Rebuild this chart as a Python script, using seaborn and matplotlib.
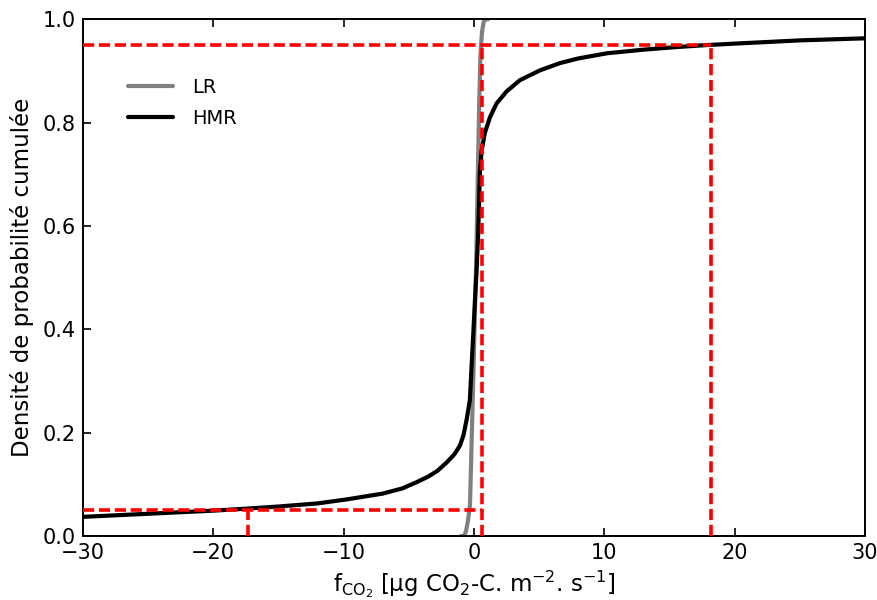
import numpy as np
import pandas as pd
import seaborn as sns
import matplotlib
matplotlib.use("Agg")
import matplotlib.pyplot as plt

# HMR cumulative curve
hmr_x = [-30, -25, -20, -17.4, -15, -12, -9.7, -7, -5.5, -4.4, -3.5, -2.8, -2.1, -1.5,
         -1.07, -0.8, -0.56, -0.31, -0.18, -0.05, 0.08, 0.2, 0.33, 0.4, 0.46, 0.59,
         0.84, 1.23, 1.74, 2.5, 3.53, 5.07, 6.6, 8.0, 10.2, 13.0, 15.5, 17.9, 21.0,
         25.0, 30.0]
hmr_y = [0.037, 0.043, 0.049, 0.053, 0.057, 0.063, 0.071, 0.082, 0.092, 0.104, 0.115,
         0.126, 0.142, 0.158, 0.175, 0.195, 0.225, 0.263, 0.327, 0.39, 0.456, 0.51,
         0.586, 0.65, 0.705, 0.745, 0.78, 0.81, 0.837, 0.86, 0.882, 0.901, 0.915,
         0.924, 0.934, 0.941, 0.946, 0.95, 0.954, 0.959, 0.963]

# LR cumulative curve
lr_x = [-1.0, -0.75, -0.6, -0.45, -0.3, 0.0, 0.2, 0.4, 0.5, 0.62, 0.75, 0.9, 1.1]
lr_y = [0.0, 0.0, 0.01, 0.03, 0.06, 0.35, 0.56, 0.83, 0.93, 0.975, 0.995, 1.0, 1.0]

# Percentile guide lines
q_low_hmr = -17.3
q_high_hmr = 18.2
x_mid = 0.6
p_low = 0.05
p_high = 0.95

xticks = [-30, -20, -10, 0, 10, 20, 30]
yticks = [0.0, 0.2, 0.4, 0.6, 0.8, 1.0]

sns.set_style("white")
plt.rcParams['font.family'] = ['DejaVu Sans']
plt.rcParams['mathtext.fontset'] = 'dejavusans'
plt.rcParams['text.color'] = 'black'
plt.rcParams['axes.labelcolor'] = 'black'

fig = plt.figure(figsize=(8.78, 6.0), dpi=100)
ax = fig.add_axes([0.0945, 0.1067, 0.8905, 0.8613])

df_lr = pd.DataFrame({"x": lr_x, "y": lr_y})
df_hmr = pd.DataFrame({"x": hmr_x, "y": hmr_y})
sns.lineplot(data=df_lr, x="x", y="y", ax=ax, color="#808080", lw=3, label="LR",
             sort=False, estimator=None)
sns.lineplot(data=df_hmr, x="x", y="y", ax=ax, color="black", lw=3, label="HMR",
             sort=False, estimator=None)
for ln in ax.get_lines():
    ln.set_solid_joinstyle("round")

red = dict(color="red", lw=2.6, ls=(0, (3.1, 1.3)), zorder=3)
ax.plot([-30, q_high_hmr], [p_high, p_high], **red)
ax.plot([q_high_hmr, q_high_hmr], [0, p_high], **red)
ax.plot([-30, x_mid], [p_low, p_low], **red)
ax.plot([x_mid, x_mid], [0, p_high], **red)
ax.plot([q_low_hmr, q_low_hmr], [0, p_low], **red)

ax.set_xlim(-30, 30)
ax.set_ylim(0, 1.0)
ax.set_xticks(xticks)
ax.set_yticks(yticks)
ax.set_xticklabels([f"\u2212{abs(t)}" if t < 0 else str(t) for t in xticks])
ax.set_yticklabels([f"{t:.1f}" for t in yticks])
ax.tick_params(axis="both", direction="in", length=6, width=1.2, labelsize=15,
               colors="black", pad=5)
ax.tick_params(axis="x", top=True, bottom=True)
ax.tick_params(axis="y", left=True, right=False)
for s in ax.spines.values():
    s.set_color("black")
    s.set_linewidth(1.4)

ax.set_xlabel(r"f$_{\mathrm{CO_2}}$ [µg CO$_2$-C. m$^{-2}$. s$^{-1}$]", fontsize=16.5, labelpad=4)
ax.set_ylabel("Densité de probabilité cumulée", fontsize=16.5, labelpad=6)

leg = ax.legend(loc="upper left", bbox_to_anchor=(0.035, 0.92), frameon=False,
                fontsize=14, handlelength=2.3, handletextpad=1.0, labelspacing=0.6)

fig.savefig("out.png", dpi=100)
